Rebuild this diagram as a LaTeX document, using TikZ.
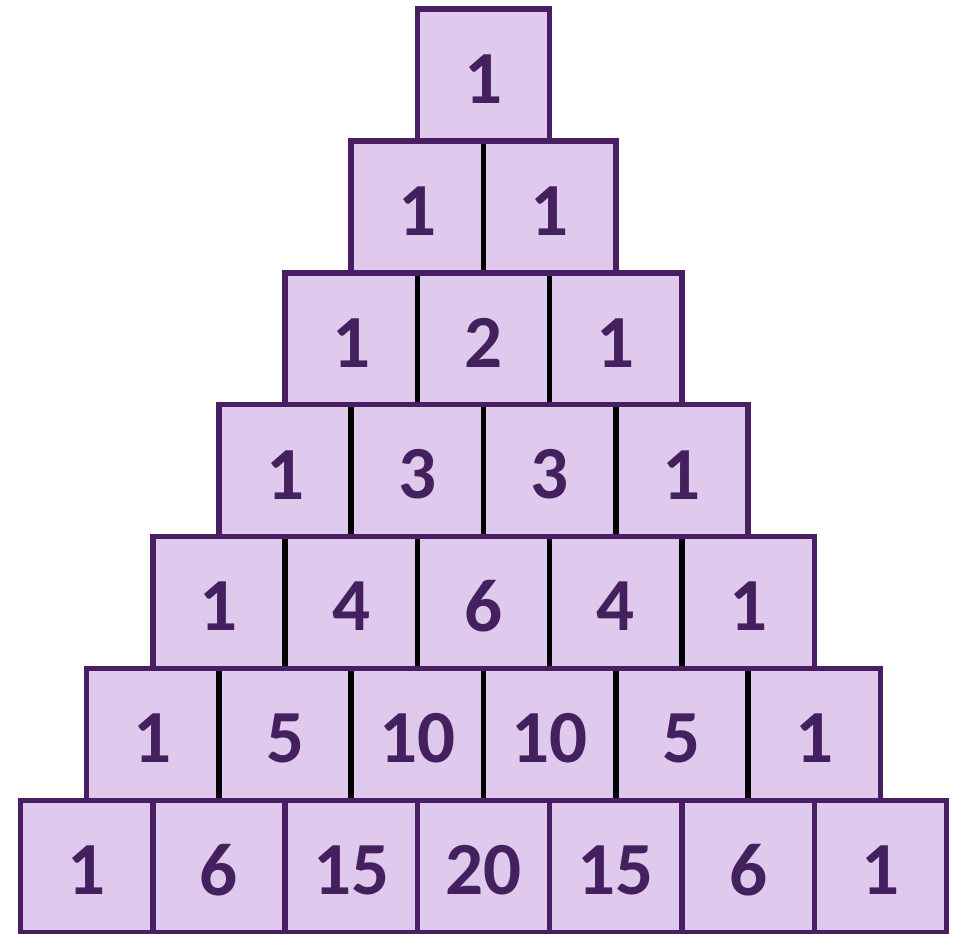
\documentclass[tikz,border=0pt]{standalone}
\usepackage{fontspec}
\setmainfont{Carlito}
\definecolor{cellfill}{HTML}{DFC9ED}
\definecolor{edge}{HTML}{4A1E63}
\definecolor{numcol}{HTML}{44205E}
\tikzset{
  rowfill/.style={fill=cellfill},
  rowedge/.style={draw=edge,line width=5.5pt},
  divblack/.style={draw=black,line width=5.5pt},
  divpurple/.style={draw=edge,line width=5.5pt},
  num/.style={inner sep=0pt,text=numcol,font=\fontsize{75}{80}\selectfont\bfseries}
}
\begin{document}
\begin{tikzpicture}[x=1pt,y=-1pt]
\useasboundingbox (0,0) rectangle (964,934);
\def\rowlist{0/{1},1/{1,1},2/{1,2,1},3/{1,3,3,1},4/{1,4,6,4,1},5/{1,5,10,10,5,1},6/{1,6,15,20,15,6,1}}
% fills and row corners
\foreach \k/\vals in \rowlist {
  \pgfmathsetmacro{\xl}{483.5-(\k+1)*66.15}
  \pgfmathsetmacro{\xr}{483.5+(\k+1)*66.15}
  \pgfmathsetmacro{\yt}{9+\k*131.9}
  \pgfmathsetmacro{\yb}{9+(\k+1)*131.9}
  \coordinate (tl\k) at (\xl,\yt);
  \coordinate (br\k) at (\xr,\yb);
  \fill[rowfill] (tl\k) rectangle (br\k);
}
% numbers
\foreach \k/\vals in \rowlist {
  \foreach \v [count=\j from 0] in \vals {
    \pgfmathsetmacro{\cx}{483.5-(\k+1)*66.15+\j*132.3+66.15}
    \pgfmathsetmacro{\cy}{9+\k*131.9+65.95+4}
    \node[num] (n\k-\j) at (\cx,\cy) {\v};
  }
}
% dividers
\foreach \k/\vals in \rowlist {
  \ifnum\k>0
    \foreach \j in {1,...,\k} {
      \pgfmathsetmacro{\dx}{483.5-(\k+1)*66.15+\j*132.3}
      \coordinate (dt\k-\j) at (\dx,{9+\k*131.9});
      \coordinate (db\k-\j) at (\dx,{9+(\k+1)*131.9});
      \ifnum\k=6
        \draw[divpurple] (dt\k-\j) -- (db\k-\j);
      \else
        \draw[divblack] (dt\k-\j) -- (db\k-\j);
      \fi
    }
  \fi
}
% outlines
\foreach \k/\vals in \rowlist {
  \draw[rowedge] (tl\k) rectangle (br\k);
}
\end{tikzpicture}
\end{document}
